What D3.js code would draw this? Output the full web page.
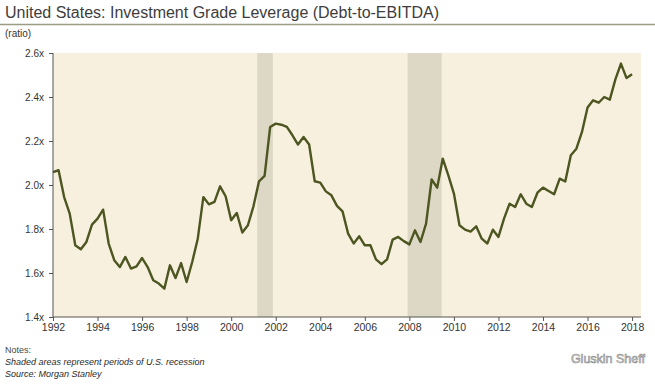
<!DOCTYPE html>
<html>
<head>
<meta charset="utf-8">
<script src="https://cdn.jsdelivr.net/npm/d3@7"></script>
<style>
  body { margin: 0; background: #fff; }
  text { font-family: "Liberation Sans", Arial, sans-serif; }
</style>
</head>
<body>
<div class="chart"></div>
<script>
var svgWidth = 655;
var svgHeight = 389;

var margin = { top: 53, right: 14, bottom: 72, left: 53 };
var width = svgWidth - margin.left - margin.right;
var height = svgHeight - margin.top - margin.bottom;

// quarterly leverage, 1992 Q1 .. 2018 Q1
var startYear = 1992;
var leverage = [
  2.059, 2.067, 1.945, 1.870,  1.726, 1.708, 1.741, 1.820,
  1.847, 1.888, 1.734, 1.658,  1.627, 1.673, 1.620, 1.630,
  1.668, 1.627, 1.567, 1.552,  1.529, 1.635, 1.577, 1.645,
  1.559, 1.650, 1.756, 1.945,  1.912, 1.923, 1.994, 1.949,
  1.840, 1.873, 1.784, 1.817,  1.903, 2.017, 2.041, 2.264,
  2.279, 2.274, 2.264, 2.226,  2.184, 2.218, 2.184, 2.017,
  2.011, 1.971, 1.953, 1.905,  1.880, 1.779, 1.734, 1.767,
  1.726, 1.726, 1.662, 1.640,  1.662, 1.752, 1.764, 1.745,
  1.730, 1.794, 1.741, 1.824,  2.025, 1.988, 2.120, 2.044,
  1.961, 1.817, 1.797, 1.788,  1.812, 1.756, 1.734, 1.797,
  1.764, 1.847, 1.915, 1.900,  1.958, 1.915, 1.900, 1.965,
  1.988, 1.973, 1.958, 2.029,  2.016, 2.135, 2.165, 2.241,
  2.352, 2.385, 2.374, 2.400,  2.388, 2.480, 2.552, 2.486,
  2.503
];

// U.S. recessions (decimal years)
var recessions = [[2001.17, 2001.87], [2007.92, 2009.45]];

var yTicks = [1.4, 1.6, 1.8, 2.0, 2.2, 2.4, 2.6];
var xTicks = d3.range(1992, 2019, 2);

var notes = [
  "Shaded areas represent periods of U.S. recession",
  "Source: Morgan Stanley"
];

var data = leverage.map(function(v, i) {
  return { year: startYear + i / 4, value: v };
});

var svg = d3.select(".chart")
  .append("svg")
  .attr("width", svgWidth)
  .attr("height", svgHeight);

// title + rule
svg.append("text")
  .attr("x", 5)
  .attr("y", 18)
  .attr("font-size", 16)
  .attr("fill", "#3d3d3d")
  .text("United States: Investment Grade Leverage (Debt-to-EBITDA)");

svg.append("line")
  .attr("x1", 0).attr("x2", svgWidth)
  .attr("y1", 24.5).attr("y2", 24.5)
  .attr("stroke", "#9c9c82")
  .attr("stroke-width", 1.5);

svg.append("text")
  .attr("x", 5)
  .attr("y", 37)
  .attr("font-size", 10)
  .attr("fill", "#333")
  .text("(ratio)");

var chartGroup = svg.append("g")
  .attr("transform", `translate(${margin.left}, ${margin.top})`);

var xLinearScale = d3.scaleLinear()
  .domain([1992, 2018.4])
  .range([0, width]);

var yLinearScale = d3.scaleLinear()
  .domain([1.4, 2.6])
  .range([height, 0]);

// plot background
chartGroup.append("rect")
  .attr("x", 0)
  .attr("y", 0)
  .attr("width", width)
  .attr("height", height)
  .attr("fill", "#f7f0df");

// recession shading
chartGroup.selectAll(".recession")
  .data(recessions)
  .enter()
  .append("rect")
  .attr("class", "recession")
  .attr("x", d => xLinearScale(d[0]))
  .attr("width", d => xLinearScale(d[1]) - xLinearScale(d[0]))
  .attr("y", 0)
  .attr("height", height)
  .attr("fill", "#ddd7c5");

// axes
var leftAxis = d3.axisLeft(yLinearScale)
  .tickValues(yTicks)
  .tickSize(4)
  .tickPadding(5)
  .tickFormat(d => d3.format(".1f")(d) + "x");

var bottomAxis = d3.axisBottom(xLinearScale)
  .tickValues(xTicks)
  .tickSize(4)
  .tickPadding(3)
  .tickFormat(d3.format("d"));

var yAxis = chartGroup.append("g")
  .classed("y-axis", true)
  .call(leftAxis);

var xAxis = chartGroup.append("g")
  .classed("x-axis", true)
  .attr("transform", `translate(0, ${height})`)
  .call(bottomAxis);

yAxis.select(".domain").remove();
xAxis.select(".domain").remove();

chartGroup.append("line")
  .attr("x1", 0).attr("x2", 0)
  .attr("y1", 0).attr("y2", height)
  .attr("stroke", "#555");

chartGroup.append("line")
  .attr("x1", 0).attr("x2", width)
  .attr("y1", height).attr("y2", height)
  .attr("stroke", "#555");

chartGroup.selectAll(".tick line").attr("stroke", "#555");
chartGroup.selectAll(".tick text")
  .attr("fill", "#333")
  .style("font-family", "'Liberation Sans', Arial, sans-serif");
yAxis.selectAll(".tick text").attr("font-size", 10);
xAxis.selectAll(".tick text").attr("font-size", 10.5);

// leverage line
var line = d3.line()
  .x(d => xLinearScale(d.year))
  .y(d => yLinearScale(d.value));

chartGroup.append("path")
  .datum(data)
  .attr("d", line)
  .attr("fill", "none")
  .attr("stroke", "#4d5620")
  .attr("stroke-width", 2.4)
  .attr("stroke-linejoin", "round");

// notes
svg.append("text")
  .attr("x", 5)
  .attr("y", 353)
  .attr("font-size", 9)
  .attr("fill", "#4a4a3a")
  .text("Notes:");

svg.selectAll(".note")
  .data(notes)
  .enter()
  .append("text")
  .attr("class", "note")
  .attr("x", 5)
  .attr("y", (d, i) => 365 + i * 12)
  .attr("font-size", 9)
  .attr("font-style", "italic")
  .attr("fill", "#2a2a2a")
  .text(d => d);

// logo
svg.append("text")
  .attr("x", 645)
  .attr("y", 363)
  .attr("text-anchor", "end")
  .attr("font-size", 12.5)
  .attr("fill", "#e6e6e6")
  .attr("stroke", "#8a8a8a")
  .attr("stroke-width", 0.6)
  .text("Gluskin Sheff");
</script>
</body>
</html>
